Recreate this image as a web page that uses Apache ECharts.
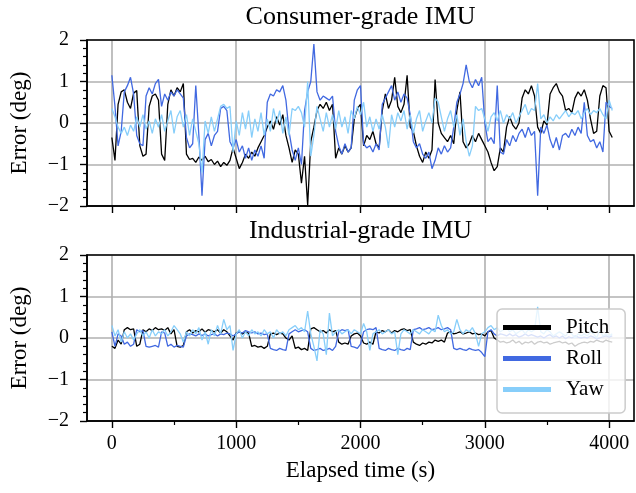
<!DOCTYPE html>
<html><head><meta charset="utf-8">
<script src="https://cdn.jsdelivr.net/npm/echarts@6/dist/echarts.min.js"></script>
<style>html,body{margin:0;padding:0;background:#fff}#c{width:636px;height:493px}</style>
</head><body><div id="c"></div>
<script>
const FONT = 'Liberation Serif';
const panelTitles = ['Consumer-grade IMU', 'Industrial-grade IMU'];
const seriesNames = ['Pitch', 'Roll', 'Yaw'];
const seriesColors = ['#000000', '#4169E1', '#87CEFA'];
const xMajorTicks = [0, 1000, 2000, 3000, 4000];
const xMinorTicks = [500, 1500, 2500, 3500];
const time = [0,25,50,75,100,125,150,175,200,225,250,275,300,325,350,375,400,425,450,475,500,525,550,575,600,625,650,675,700,725,750,775,800,825,850,875,900,925,950,975,1000,1025,1050,1075,1100,1125,1150,1175,1200,1225,1250,1275,1300,1325,1350,1375,1400,1425,1450,1475,1500,1525,1550,1575,1600,1625,1650,1675,1700,1725,1750,1775,1800,1825,1850,1875,1900,1925,1950,1975,2000,2025,2050,2075,2100,2125,2150,2175,2200,2225,2250,2275,2300,2325,2350,2375,2400,2425,2450,2475,2500,2525,2550,2575,2600,2625,2650,2675,2700,2725,2750,2775,2800,2825,2850,2875,2900,2925,2950,2975,3000,3025,3050,3075,3100,3125,3150,3175,3200,3225,3250,3275,3300,3325,3350,3375,3400,3425,3450,3475,3500,3525,3550,3575,3600,3625,3650,3675,3700,3725,3750,3775,3800,3825,3850,3875,3900,3925,3950,3975,4000,4025];

const pitchConsumer = [
-0.35,-0.9,0.45,0.75,0.8,0.5,0.35,0.72,
0.78,-0.55,-0.8,-0.75,0.4,0.65,0.7,0.55,
-0.75,-0.9,0.45,0.8,0.65,0.85,0.75,0.95,
-0.75,-0.88,-0.85,-0.95,-0.82,-0.9,-0.8,-0.93,
-0.88,-1.0,-0.92,-1.05,-0.95,-1.02,-0.9,-0.6,
-0.85,-1.1,-0.95,-0.75,-0.85,-0.7,-0.8,-0.6,
-0.45,-0.3,-0.1,0.05,-0.15,0.15,-0.05,0.2,
-0.3,-0.6,-0.95,-0.65,-0.75,-1.45,-0.8,-1.98,
-0.45,-0.1,0.3,0.45,0.35,0.5,0.3,0.45,
-0.85,-0.6,-0.75,-0.55,-0.7,-0.6,0.1,0.35,
0.45,-0.55,-0.3,-0.4,-0.2,-0.5,-0.6,0.3,
0.7,0.35,0.55,1.1,0.4,0.25,0.45,1.15,
-0.1,-0.2,-0.55,-0.8,-0.95,-0.7,-0.85,-0.65,
1.05,0.0,-0.25,-0.35,-0.45,-0.3,-0.5,0.3,
0.75,-0.45,-0.6,-0.5,-0.3,-0.45,-0.25,-0.4,
-0.55,-0.7,-0.95,-1.15,-1.05,-0.6,-0.7,-0.1,
0.15,-0.05,-0.15,0.0,0.6,0.8,0.7,0.9,
0.65,-0.1,-0.25,0.05,-0.05,0.7,0.85,0.95,
0.75,0.65,0.3,0.35,0.25,0.6,0.75,0.65,
0.8,0.55,0.1,-0.25,-0.2,0.65,0.9,0.85,
-0.2,-0.35];

const rollConsumer = [
1.15,0.4,-0.55,-0.2,0.75,0.9,1.1,0.7,
-0.3,-0.5,-0.55,0.65,0.85,0.7,0.95,1.05,
0.4,0.7,0.55,0.75,0.65,0.8,0.7,0.6,
-0.35,-0.6,-0.5,0.9,-0.3,-1.75,-0.4,-0.25,
-0.55,-0.3,-0.2,0.35,0.4,0.3,-0.45,-0.6,
-0.4,-0.7,-0.55,-0.85,-0.6,-0.9,-0.65,-0.8,
-0.55,-0.85,0.5,0.7,0.65,0.8,0.75,0.9,
0.55,-0.2,-0.65,-0.9,-0.6,-1.0,0.3,0.75,
1.0,1.9,0.75,0.55,0.65,0.6,0.55,0.65,
-0.2,-0.55,-0.75,-0.5,-0.7,-0.6,0.55,0.8,
0.9,-0.5,-0.6,-0.55,-0.7,-0.5,-0.65,0.45,
0.6,0.75,0.9,0.55,0.75,0.5,0.7,0.6,
0.2,-0.45,-0.6,-0.5,-0.75,-0.85,-0.7,-1.1,
-0.9,-0.6,-0.75,-0.55,-0.7,-0.6,-0.1,0.5,
0.7,0.95,1.4,1.0,0.85,1.05,0.9,1.1,
0.0,-0.45,-0.35,-0.5,0.9,-0.7,-0.75,-0.4,
-0.55,-0.3,-0.45,-0.25,-0.15,-0.35,-0.1,-0.3,
-0.2,-1.75,-0.1,-0.25,-0.05,-0.4,-0.6,-0.35,
-0.65,-0.3,-0.25,-0.35,-0.15,-0.3,-0.1,-0.25,
0.5,-0.3,-0.45,-0.4,-0.6,-0.45,-0.7,0.5,
0.4,0.35];

const yawConsumer = [
0.35,0.15,-0.1,-0.25,-0.1,-0.3,-0.05,-0.2,
0.15,-0.1,0.2,-0.15,0.05,-0.25,0.1,-0.1,
0.2,-0.2,0.05,0.3,-0.25,0.15,0.3,-0.1,
0.2,-0.3,0.1,-0.2,-0.5,-1.2,0.05,-0.25,
0.15,-0.2,0.1,0.4,0.45,0.35,0.4,-0.7,
0.05,-0.3,0.25,-0.15,0.3,-0.35,0.1,-0.2,
0.25,-0.3,0.1,-0.2,0.35,0.0,0.3,-0.25,
0.15,-0.3,0.35,0.3,0.4,0.25,-0.1,1.0,
-0.8,-0.3,0.4,0.1,-0.2,0.25,-0.1,0.2,
-0.15,0.3,-0.1,0.15,-0.25,0.3,0.1,0.4,
0.2,0.5,-0.1,0.15,-0.2,0.1,-0.15,0.2,
-0.1,-0.6,0.2,-0.1,0.25,0.05,0.3,-0.15,
0.2,-0.25,0.1,0.3,-0.2,0.05,0.25,0.0,
0.6,0.5,0.15,-0.2,0.1,0.3,-0.1,0.2,
-0.3,0.1,-0.45,-0.8,-0.55,0.4,0.3,0.35,
0.1,-0.2,0.15,0.25,0.05,0.3,0.0,0.2,
0.1,0.25,0.0,0.15,0.3,0.45,0.2,0.35,
0.3,0.95,0.1,0.2,0.0,0.15,0.05,0.2,
0.1,0.2,0.3,0.15,0.25,0.2,0.3,0.1,
0.25,0.35,0.2,0.3,0.25,0.35,0.2,0.1,
0.55,0.3];

const pitchIndustrial = [
-0.2,-0.25,-0.05,-0.15,0.2,0.25,0.2,0.22,
-0.2,-0.15,0.2,0.15,0.22,0.18,0.25,0.2,
0.22,0.18,0.25,0.1,0.2,-0.2,-0.22,-0.18,
0.15,0.2,0.12,0.18,0.15,0.22,0.14,0.2,
0.18,0.15,0.2,0.12,0.2,0.15,0.05,-0.05,
0.12,0.15,0.1,0.14,0.12,-0.2,-0.18,-0.22,
-0.2,-0.25,-0.2,0.1,0.12,0.08,0.12,0.1,
0.0,-0.05,0.05,-0.25,-0.22,-0.28,-0.25,-0.3,
0.22,0.25,0.2,0.15,0.18,0.12,0.2,0.15,
0.18,-0.1,-0.15,-0.12,-0.15,0.05,0.1,0.12,
0.05,-0.12,-0.15,-0.1,-0.15,0.15,0.12,0.18,
0.15,0.2,0.12,0.18,0.15,0.2,0.22,0.18,
0.2,-0.1,-0.15,-0.18,-0.12,-0.15,-0.1,-0.12,
-0.05,-0.08,-0.05,-0.1,0.12,0.15,0.1,0.12,
0.15,0.1,0.12,0.15,0.1,0.12,0.08,0.1,
0.05,0.15,0.18,0.0,-0.05,-0.1,-0.08,-0.12,
-0.1,-0.05,-0.12,-0.08,-0.15,-0.1,-0.12,-0.08,
-0.15,-0.1,-0.08,-0.12,-0.1,-0.15,-0.12,-0.1,
-0.08,-0.12,-0.1,-0.15,-0.12,-0.2,-0.15,-0.12,
-0.1,-0.12,-0.08,-0.1,-0.05,-0.08,-0.1,-0.05,
-0.08,-0.1];

const rollIndustrial = [
0.15,-0.2,0.1,0.05,-0.15,-0.1,-0.2,-0.15,
0.2,0.15,0.18,-0.2,-0.22,-0.2,-0.18,-0.22,
0.15,0.12,-0.2,-0.15,-0.22,-0.18,-0.2,-0.22,
0.05,0.1,0.08,0.05,0.1,0.06,0.1,0.05,
0.08,0.1,0.05,0.1,0.08,0.12,0.1,0.05,
0.1,0.15,0.12,0.18,0.15,0.12,0.15,0.1,
0.12,0.08,0.1,-0.25,-0.28,-0.3,-0.25,-0.28,
-0.3,0.1,0.15,0.2,0.15,0.18,0.2,0.15,
-0.25,-0.3,-0.28,-0.25,-0.3,-0.28,-0.25,-0.3,
-0.2,0.15,0.2,0.18,0.2,-0.2,-0.22,-0.25,
-0.15,0.15,0.2,0.22,0.2,0.25,-0.25,-0.28,
-0.3,-0.25,-0.28,-0.3,-0.25,-0.28,-0.3,-0.25,
-0.28,0.2,0.22,0.25,0.2,0.22,0.25,0.2,
0.22,0.25,0.2,0.22,0.25,0.2,-0.25,-0.28,
-0.25,-0.28,-0.3,-0.25,-0.28,-0.3,-0.28,-0.35,
-0.45,0.15,0.2,0.1,0.05,0.1,0.08,0.05,
0.1,0.05,0.08,0.02,0.05,0.1,0.05,0.08,
0.05,0.02,0.05,0.0,0.05,0.08,0.02,0.05,
0.0,0.05,-0.02,0.03,0.0,0.05,0.02,0.0,
0.02,0.0,0.05,0.02,-0.02,0.0,0.03,0.05,
0.02,0.05];

const yawIndustrial = [
0.3,0.05,0.2,-0.1,0.15,0.0,0.1,-0.05,
0.1,0.2,0.05,0.15,0.0,0.2,0.05,0.15,
0.1,0.2,0.05,0.15,0.3,0.2,0.1,-0.1,
0.15,0.05,0.2,0.1,0.25,-0.05,0.15,-0.15,
0.2,0.05,0.3,0.1,0.45,0.2,0.3,-0.3,
0.1,0.2,0.0,0.15,0.05,0.2,0.1,0.15,
0.05,0.2,0.1,0.15,0.0,0.2,0.1,0.15,
0.05,0.2,0.25,0.3,0.2,0.25,0.15,0.65,
0.1,-0.2,-0.55,0.2,0.1,-0.4,0.6,0.05,
0.15,0.2,0.1,0.15,0.2,0.1,0.2,0.15,
0.1,0.35,0.15,-0.3,0.1,0.15,0.2,0.1,
0.15,0.2,0.1,0.15,-0.4,0.1,0.2,0.15,
0.1,0.2,0.15,0.1,0.2,0.15,0.1,0.2,
0.15,0.55,0.3,0.15,0.2,0.1,0.15,0.45,
0.2,0.1,0.2,0.15,0.25,0.1,-0.2,0.1,
0.15,0.25,0.3,0.2,0.25,0.15,0.2,0.25,
0.15,0.2,0.1,0.15,0.2,0.1,0.2,0.15,
0.2,0.75,0.15,0.1,0.2,0.15,0.05,0.1,
0.15,0.1,0.05,0.15,0.1,0.0,0.1,0.05,
0.1,0.05,0.15,0.1,0.0,0.2,0.05,0.1,
0.05,0.1];

const panelData = [
  [pitchConsumer, rollConsumer, yawConsumer],
  [pitchIndustrial, rollIndustrial, yawIndustrial]
];

// layout (pixels)
const L = 87, W = 547, H = 166;
const panelTops = [40, 255];
const xMin = -200, xMax = 4200;

const axisFont = { fontFamily: FONT, fontSize: 20, color: '#000' };
const fmtY = v => v < 0 ? '\u2212' + (-v) : String(v);

const grid = [], xAxis = [], yAxis = [], series = [], graphic = [];
panelTops.forEach((top) => grid.push({ left: L, top: top, width: W, height: H, containLabel: false }));
panelTops.forEach((top) => grid.push({ left: L, top: top, width: W, height: H, containLabel: false }));
panelTops.forEach((top, p) => {
  const isBottom = p === panelTops.length - 1;
  xAxis.push({
    type: 'value', gridIndex: p, min: xMin, max: xMax, position: 'bottom',
    axisLine: { show: true, onZero: false, lineStyle: { color: '#000', width: 1.6 } },
    axisTick: { show: true, customValues: xMajorTicks, length: 7, lineStyle: { color: '#000', width: 1.4 } },
    axisLabel: { show: isBottom, customValues: xMajorTicks, margin: 13, formatter: v => String(v), ...axisFont },
    splitLine: { show: true, lineStyle: { color: '#b0b0b0', width: 1.6 } },
    name: isBottom ? 'Elapsed time (s)' : '', nameLocation: 'middle', nameGap: 38,
    nameTextStyle: { fontFamily: FONT, fontSize: 23, color: '#000' }
  });
  yAxis.push({
    type: 'value', gridIndex: p, min: -2, max: 2, interval: 1,
    axisLine: { show: true, onZero: false, lineStyle: { color: '#000', width: 1.6 } },
    axisTick: { show: true, length: 7, lineStyle: { color: '#000', width: 1.4 } },
    minorTick: { show: true, splitNumber: 5, length: 4, lineStyle: { color: '#000', width: 1.2 } },
    splitLine: { show: true, lineStyle: { color: '#b0b0b0', width: 1.6 } },
    axisLabel: { margin: 18, formatter: fmtY, ...axisFont },
    name: 'Error (deg)', nameLocation: 'middle', nameGap: 56,
    nameTextStyle: { fontFamily: FONT, fontSize: 23, color: '#000' }
  });
});
// minor x ticks on twin grids
panelTops.forEach((top, p) => {
  xAxis.push({
    type: 'value', gridIndex: panelTops.length + p, min: xMin, max: xMax, position: 'bottom',
    axisLine: { show: false, onZero: false },
    axisTick: { show: true, customValues: xMinorTicks, length: 4, lineStyle: { color: '#000', width: 1.2 } },
    axisLabel: { show: false, customValues: xMinorTicks },
    splitLine: { show: false }
  });
  yAxis.push({ type: 'value', gridIndex: panelTops.length + p, min: -2, max: 2, show: false,
    axisLine: { onZero: false }, splitLine: { show: false } });
});

panelData.forEach((arrs, p) => {
  arrs.forEach((arr, k) => {
    series.push({
      type: 'line', name: seriesNames[k], xAxisIndex: p, yAxisIndex: p,
      data: time.map((t, i) => [t, arr[i]]),
      symbol: 'none', showSymbol: false, animation: false,
      lineStyle: { color: seriesColors[k], width: 1.3 },
      itemStyle: { color: seriesColors[k] },
      z: 2 + k
    });
  });
});

panelTops.forEach((top) => {
  graphic.push({
    type: 'rect', silent: true, z: 100,
    shape: { x: L, y: top, width: W, height: H },
    style: { fill: 'none', stroke: '#000', lineWidth: 1.6 }
  });
});
graphic.push({ type: 'text', silent: true, x: L + W / 2, y: 17,
  style: { text: panelTitles[0], textAlign: 'center', textVerticalAlign: 'middle', font: '26px "Liberation Serif"', fill: '#000' } });
graphic.push({ type: 'text', silent: true, x: L + W / 2, y: 231,
  style: { text: panelTitles[1], textAlign: 'center', textVerticalAlign: 'middle', font: '26px "Liberation Serif"', fill: '#000' } });

const chart = echarts.init(document.getElementById('c'), null, { renderer: 'canvas' });
chart.setOption({
  backgroundColor: '#ffffff',
  animation: false,
  color: seriesColors,
  grid, xAxis, yAxis, series, graphic,
  legend: {
    data: seriesNames.map(n => ({ name: n, icon: 'rect' })),
    orient: 'vertical', left: 497, top: 309,
    itemWidth: 48, itemHeight: 5, itemGap: 10,
    padding: [8, 16, 13, 6],
    backgroundColor: 'rgba(255,255,255,0.8)', borderColor: '#cccccc', borderWidth: 1.5, borderRadius: 5,
    textStyle: { fontFamily: FONT, fontSize: 21, color: '#000', lineHeight: 21, padding: [0, 0, 0, 10] },
    z: 50
  }
});
</script>
</body></html>
